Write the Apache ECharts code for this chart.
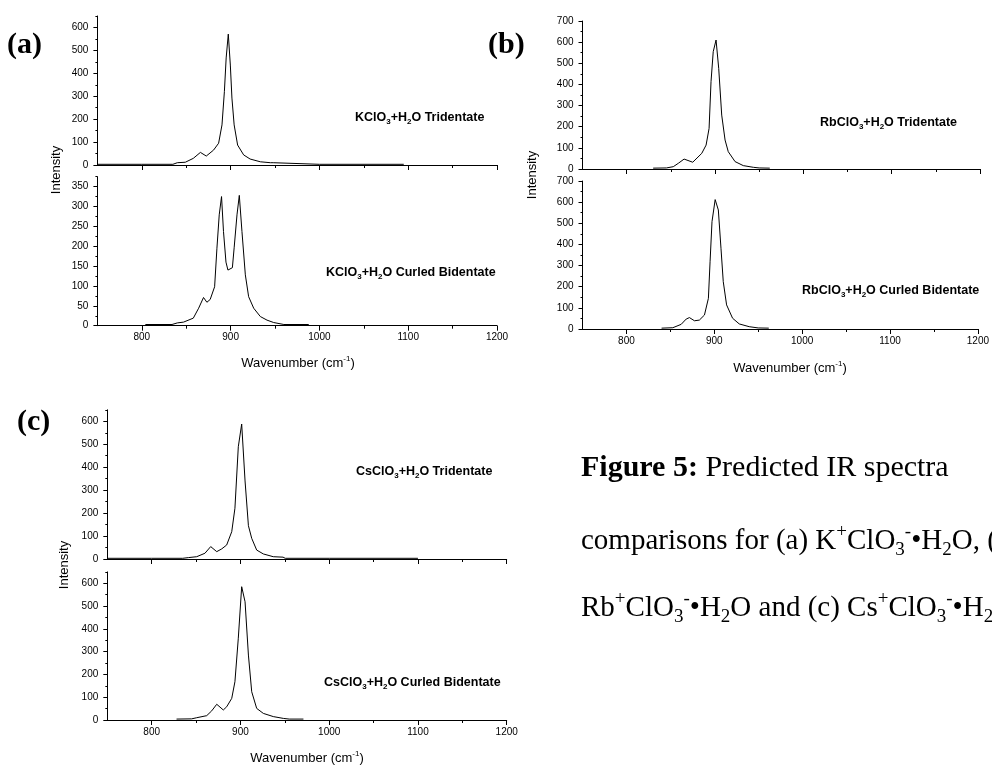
<!DOCTYPE html>
<html><head><meta charset="utf-8">
<script src="https://cdn.jsdelivr.net/npm/echarts@6/dist/echarts.min.js"></script>
<style>html,body{margin:0;padding:0;background:#fff}#c{width:992px;height:765px}</style>
</head><body><div id="c"></div>
<script>
// ---- data (wavenumber cm-1, intensity) ----
const wnKTri = [750, 800, 835, 840, 849, 858, 866, 872.6, 880.8, 886.5, 890.3, 893, 895, 897.4, 899.7, 901.5, 904, 907.9, 914.7, 922, 933.5, 944.8, 948, 950, 1000, 1095];
const kTri   = [3, 3, 3, 10, 12, 29, 55, 39, 65, 95, 175, 320, 467, 571, 436, 292, 175, 87, 44, 26, 14, 10, 10, 3, 3, 3];

const wnKBi = [804, 834, 840, 847, 858, 864, 869.5, 873.3, 877, 882, 884.6, 887.2, 889.8, 892, 894.8, 897, 902, 904, 907.2, 909.8, 912.8, 916.6, 920.3, 926, 933.5, 941, 948.5, 960, 988];
const kBi   = [3, 3, 7, 9, 19, 44, 71, 59, 66, 98, 195, 279, 325, 237, 160, 140, 146, 196, 279, 328, 237, 128, 73, 44, 23, 14, 8, 3, 3];

const wnRbTri = [830, 845, 852.8, 858.5, 865, 874.8, 885, 889.9, 893.3, 895.5, 898, 901.2, 904.2, 907.6, 911.4, 915, 922.7, 932, 943.4, 950, 962];
const rbTri   = [4, 5, 11, 27, 47, 32, 74, 113, 192, 413, 555, 610, 476, 255, 137, 82, 35, 16, 8, 5, 4];

const wnRbBi = [840, 852.8, 862.3, 868, 871.7, 877.4, 883, 888.8, 893.3, 895.2, 897.4, 901, 904.6, 907.6, 910.2, 914, 920.8, 928.4, 939.7, 950, 962];
const rbBi   = [4, 6, 22, 47, 54, 39, 42, 66, 145, 318, 508, 612, 563, 382, 224, 114, 51, 24, 11, 5, 4];

const wnCsTri = [750, 800, 835, 841.3, 850.7, 860, 866.5, 873.3, 878.9, 884.5, 890.2, 893.8, 897.6, 901.4, 905.2, 909, 912.7, 918.3, 925.8, 937, 948, 950.5, 1000, 1100];
const csTri   = [3, 3, 3, 6, 10, 25, 54, 32, 44, 61, 119, 221, 489, 588, 340, 145, 90, 39, 22, 10, 8, 3, 3, 3];

const wnCsBi = [828, 845, 850.7, 862, 867.6, 873.3, 880.7, 884.5, 890.2, 893.8, 897.6, 901.4, 905.2, 909, 912.7, 918.3, 925.8, 937, 948.3, 955, 971];
const csBi   = [4, 5, 10, 19, 40, 69, 44, 58, 95, 168, 359, 585, 519, 285, 124, 51, 29, 15, 7, 4, 4];

// ---- tick labels ----
const xMajorTicks = [800, 900, 1000, 1100, 1200];
const xMinorTicks = [850, 950, 1050, 1150];
const yMajor650 = [0, 100, 200, 300, 400, 500, 600];
const yMinor650 = [50, 150, 250, 350, 450, 550, 650];
const yMajor375 = [0, 50, 100, 150, 200, 250, 300, 350];
const yMinor375 = [25, 75, 125, 175, 225, 275, 325, 375];
const yMajor700 = [0, 100, 200, 300, 400, 500, 600, 700];
const yMinor700 = [50, 150, 250, 350, 450, 550, 650];

// ---- layout ----
const panels = [
  {grid:{left:97.4, top:16,    width:399.6, height:149},   x:wnKTri,  y:kTri,  yMax:650, yMaj:yMajor650, yMin:yMinor650, xLab:false},
  {grid:{left:97.4, top:176.7, width:399.6, height:149},   x:wnKBi,   y:kBi,   yMax:375, yMaj:yMajor375, yMin:yMinor375, xLab:true},
  {grid:{left:582.5, top:21,   width:397.5, height:148},   x:wnRbTri, y:rbTri, yMax:700, yMaj:yMajor700, yMin:yMinor700, xLab:false},
  {grid:{left:582.5, top:181,  width:397.5, height:148},   x:wnRbBi,  y:rbBi,  yMax:700, yMaj:yMajor700, yMin:yMinor700, xLab:true},
  {grid:{left:107.3, top:409.8, width:399.4, height:149.2}, x:wnCsTri, y:csTri, yMax:650, yMaj:yMajor650, yMin:yMinor650, xLab:false},
  {grid:{left:107.3, top:571.9, width:399.4, height:148.1}, x:wnCsBi,  y:csBi,  yMax:650, yMaj:yMajor650, yMin:yMinor650, xLab:true}
];

const SANS = 'Liberation Sans', SERIF = 'Liberation Serif';
const black = '#000';
const plain = v => String(v);
const grid = [], xAxis = [], yAxis = [], series = [];
panels.forEach((p, i) => {
  grid.push(Object.assign({containLabel:false}, p.grid));
  xAxis.push({type:'value', gridIndex:i, position:'bottom', min:750, max:1200,
    axisLine:{show:true, onZero:false, lineStyle:{color:black, width:1}},
    axisTick:{show:true, customValues:xMajorTicks, length:5, lineStyle:{color:black, width:1}},
    axisLabel:{show:p.xLab, customValues:xMajorTicks, formatter:plain, fontSize:10, color:black, margin:7, fontFamily:SANS},
    splitLine:{show:false}});
  xAxis.push({type:'value', gridIndex:i, position:'bottom', min:750, max:1200,
    axisLine:{show:false},
    axisTick:{show:true, customValues:xMinorTicks, length:3, lineStyle:{color:black, width:1}},
    axisLabel:{show:false}, splitLine:{show:false}});
  yAxis.push({type:'value', gridIndex:i, position:'left', min:0, max:p.yMax,
    axisLine:{show:true, onZero:false, lineStyle:{color:black, width:1}},
    axisTick:{show:true, customValues:p.yMaj, length:4, lineStyle:{color:black, width:1}},
    axisLabel:{show:true, customValues:p.yMaj, formatter:plain, fontSize:10, color:black, margin:9, fontFamily:SANS},
    splitLine:{show:false}});
  yAxis.push({type:'value', gridIndex:i, position:'left', min:0, max:p.yMax,
    axisLine:{show:false},
    axisTick:{show:true, customValues:p.yMin, length:2, lineStyle:{color:black, width:1}},
    axisLabel:{show:false}, splitLine:{show:false}});
  series.push({type:'line', xAxisIndex:2*i, yAxisIndex:2*i,
    data:p.x.map((w, k) => [w, p.y[k]]),
    showSymbol:false, symbol:'none', smooth:false, silent:true,
    lineStyle:{color:black, width:1}});
});

// ---- texts ----
const annRich = {
  b:{fontFamily:SANS, fontWeight:'bold', fontSize:12.5, lineHeight:16, color:black},
  s:{fontFamily:SANS, fontWeight:'bold', fontSize:8, lineHeight:6, verticalAlign:'bottom', color:black}
};
function ann(x, y, salt, tail) {
  return {type:'text', x:x, y:y, silent:true,
    style:{text:'{b|' + salt + 'ClO}{s|3}{b|+H}{s|2}{b|O ' + tail + '}', rich:annRich,
      align:'left', verticalAlign:'middle', fill:black}};
}
const axRich = {
  n:{fontFamily:SANS, fontSize:13, lineHeight:16, color:black},
  p:{fontFamily:SANS, fontSize:8, lineHeight:8, verticalAlign:'top', color:black}
};
function yTitle(x, y) {
  return {type:'text', x:x, y:y, rotation:Math.PI/2, silent:true,
    style:{text:'{n|Intensity}', rich:axRich, align:'center', verticalAlign:'middle', fill:black}};
}
function xTitle(x, y) {
  return {type:'text', x:x, y:y, silent:true,
    style:{text:'{n|Wavenumber (cm}{p|-1}{n|)}', rich:axRich, align:'center', verticalAlign:'middle', fill:black}};
}
function plabel(x, y, t) {
  return {type:'text', x:x, y:y, silent:true,
    style:{text:t, fontFamily:SERIF, fontWeight:'bold', fontSize:30, fill:black, align:'left', verticalAlign:'middle'}};
}
const capRich = {
  fb:{fontFamily:SERIF, fontWeight:'bold', fontSize:30, lineHeight:38, color:black},
  f:{fontFamily:SERIF, fontSize:30, lineHeight:38, color:black},
  r:{fontFamily:SERIF, fontSize:29, lineHeight:37, color:black},
  sup:{fontFamily:SERIF, fontSize:19, lineHeight:23, verticalAlign:'top', color:black},
  sub:{fontFamily:SERIF, fontSize:19, lineHeight:23, verticalAlign:'bottom', color:black}
};
function cap(x, y, t) {
  return {type:'text', x:x, y:y, silent:true,
    style:{text:t, rich:capRich, align:'left', verticalAlign:'middle', fill:black}};
}

const graphic = [
  plabel(7, 45, '(a)'), plabel(488, 45, '(b)'), plabel(17, 422, '(c)'),
  ann(355, 118, 'K', 'Tridentate'),
  ann(326, 272.7, 'K', 'Curled Bidentate'),
  ann(820, 123, 'Rb', 'Tridentate'),
  ann(802, 290.7, 'Rb', 'Curled Bidentate'),
  ann(356, 471.7, 'Cs', 'Tridentate'),
  ann(324, 683, 'Cs', 'Curled Bidentate'),
  yTitle(56, 170), yTitle(532, 175), yTitle(64, 565),
  xTitle(298, 363), xTitle(790, 368), xTitle(307, 758),
  cap(581, 468, '{fb|Figure 5:}{f| Predicted IR spectra}'),
  cap(581, 541, '{r|comparisons for (a) K}{sup|+}{r|ClO}{sub|3}{sup|-}{r|•H}{sub|2}{r|O, (b)}'),
  cap(581, 608, '{r|Rb}{sup|+}{r|ClO}{sub|3}{sup|-}{r|•H}{sub|2}{r|O and (c) Cs}{sup|+}{r|ClO}{sub|3}{sup|-}{r|•H}{sub|2}{r|O.}')
];

const chart = echarts.init(document.getElementById('c'), null, {renderer:'canvas'});
chart.setOption({animation:false, backgroundColor:'#fff', grid, xAxis, yAxis, series, graphic});
</script>
</body></html>
